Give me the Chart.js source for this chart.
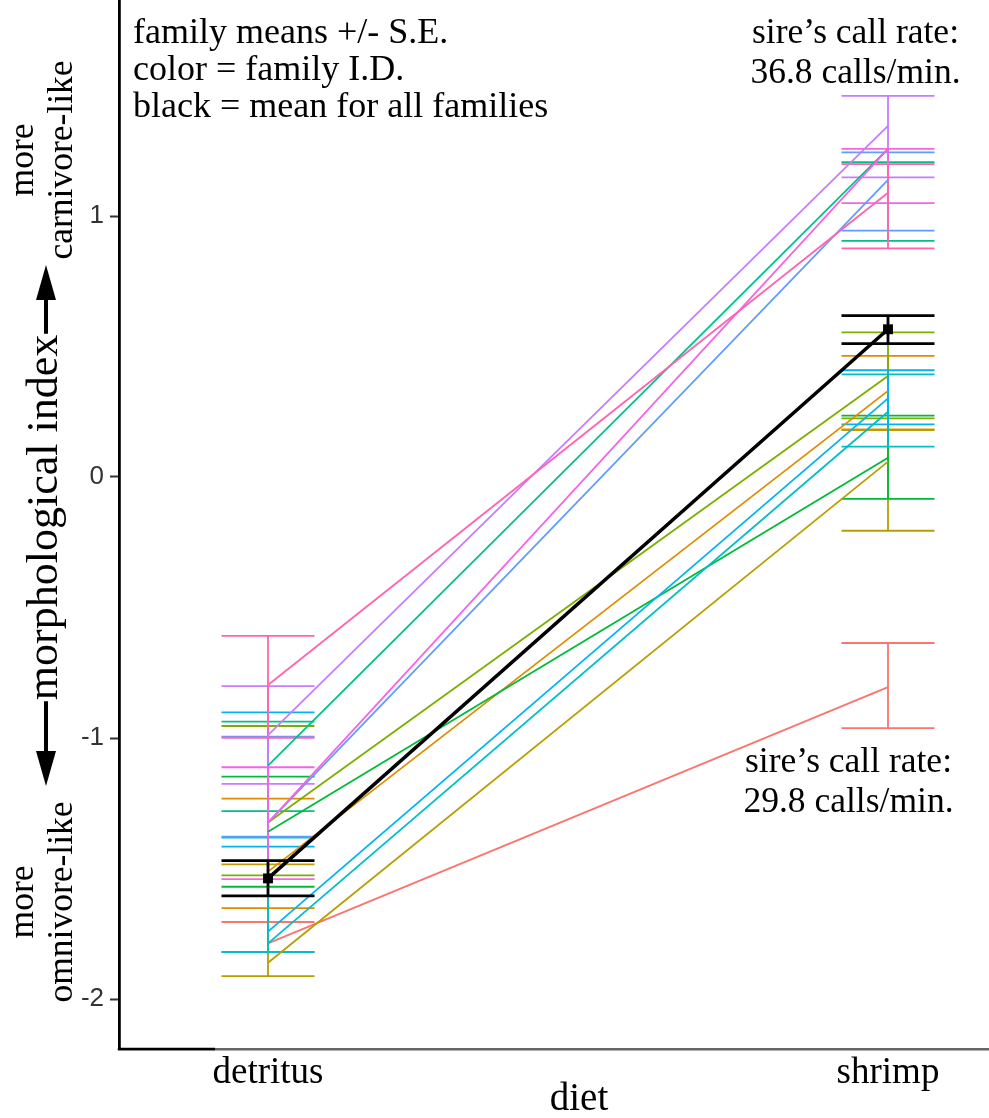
<!DOCTYPE html>
<html>
<head>
<meta charset="utf-8">
<script src="https://cdn.jsdelivr.net/npm/chart.js@4/dist/chart.umd.min.js"></script>
<style>
  html, body { margin: 0; padding: 0; background: #ffffff; }
  #wrap { width: 989px; height: 1118px; position: relative; }
</style>
</head>
<body>
<div id="wrap"><canvas id="c" width="989" height="1118"></canvas></div>
<script>
// ---------------- data ----------------
const diets = ['detritus', 'shrimp'];
const dietPositions = [1, 2];

const familyColors = ['#F8766D', '#DE8C00', '#B79F00', '#7CAE00', '#00BA38', '#00C08B',
                      '#00BFC4', '#00B4F0', '#619CFF', '#C77CFF', '#F564E3', '#FF64B0'];

// family means (line end points)
const detritusMean = [-1.787, -1.512, -1.861, -1.324, -1.359, -1.106, -1.787, -1.742, -1.324, -0.989, -1.324, -0.797];
const shrimpMean   = [-0.805,  0.330,  0.059,  0.387,  0.074,  1.257,  0.250,  0.301,  1.138,  1.345,  1.257,  1.089];

// error bar limits (mean +/- S.E.)
const detritusHigh = [-1.705, -1.232, -1.484, -0.954, -1.148, -0.937, -1.382, -0.902, -0.995, -0.801, -1.112, -0.609];
const detritusLow  = [-1.820, -1.652, -1.912, -1.526, -1.570, -1.280, -1.820, -1.416, -1.378, -1.176, -1.541, -0.999];
const shrimpHigh   = [-0.636,  0.464,  0.180,  0.554,  0.235,  1.206,  0.393,  0.409,  1.244,  1.460,  1.257,  1.199];
const shrimpLow    = [-0.962,  0.182, -0.206,  0.225, -0.084,  0.905,  0.116,  0.202,  0.944,  1.148,  1.049,  0.876];

// mean for all families
const allMean = [-1.538, 0.566];
const allHigh = [-1.470, 0.618];
const allLow  = [-1.605, 0.511];

const yTickValues = [-2, -1, 0, 1];

// ---------------- styles / layout ----------------
const SERIF = '"Liberation Serif", "Times New Roman", serif';
const SANS = '"Liberation Sans", Arial, sans-serif';
const CAP = 0.075;
const X_MIN = 1 - 149 / 620, X_MAX = 2 + 101 / 620;
const Y_MIN = -572 / 261, Y_MAX = 477 / 261;

const meansByDiet = [detritusMean, shrimpMean];
const highByDiet = [detritusHigh, shrimpHigh];
const lowByDiet = [detritusLow, shrimpLow];

function errorbarData(lows, highs) {
  const pts = [];
  dietPositions.forEach((x, k) => {
    const lo = lows[k], hi = highs[k];
    pts.push({x: x, y: lo}, {x: x, y: hi}, {x: x, y: null},
             {x: x - CAP, y: hi}, {x: x + CAP, y: hi}, {x: x, y: null},
             {x: x - CAP, y: lo}, {x: x + CAP, y: lo}, {x: x, y: null});
  });
  return pts;
}

const datasets = [];
familyColors.forEach((col, i) => {
  datasets.push({
    label: 'se' + i,
    data: errorbarData(lowByDiet.map(a => a[i]), highByDiet.map(a => a[i])),
    showLine: true, borderColor: col, borderWidth: 1.8, pointRadius: 0,
    spanGaps: false, order: 300 - i
  });
});
familyColors.forEach((col, i) => {
  datasets.push({
    label: 'fam' + i,
    data: dietPositions.map((x, k) => ({x: x, y: meansByDiet[k][i]})),
    showLine: true, borderColor: col, borderWidth: 1.8, pointRadius: 0,
    order: 200 - i
  });
});
datasets.push({
  label: 'all-se',
  data: errorbarData(allLow, allHigh),
  showLine: true, borderColor: '#000', borderWidth: 2.8, pointRadius: 0,
  spanGaps: false, order: 20
});
datasets.push({
  label: 'all-mean',
  data: dietPositions.map((x, k) => ({x: x, y: allMean[k]})),
  showLine: true, borderColor: '#000', borderWidth: 3.5,
  pointRadius: 7, pointStyle: 'rect', pointBackgroundColor: '#000',
  pointBorderColor: '#000', pointBorderWidth: 0, order: 10
});

// ---------------- annotation plugin ----------------
const annotations = {
  id: 'annotations',
  afterDraw(chart) {
    const ctx = chart.ctx;
    ctx.save();
    ctx.fillStyle = '#000';
    ctx.textBaseline = 'alphabetic';

    // short black piece of the x axis
    ctx.strokeStyle = '#000';
    ctx.lineWidth = 2.5;
    ctx.beginPath();
    ctx.moveTo(chart.chartArea.left - 1.2, chart.chartArea.bottom);
    ctx.lineTo(215, chart.chartArea.bottom);
    ctx.stroke();

    // top-left notes
    ctx.font = '36px ' + SERIF;
    ctx.textAlign = 'left';
    ctx.fillText('family means +/- S.E.', 133, 43);
    ctx.fillText('color = family I.D.', 133, 80);
    ctx.fillText('black = mean for all families', 133, 117);

    // sire call rates
    ctx.font = '35.5px ' + SERIF;
    ctx.textAlign = 'center';
    ctx.fillText('sire\u2019s call rate:', 855.5, 43);
    ctx.fillText('36.8 calls/min.', 855.5, 83);
    ctx.fillText('sire\u2019s call rate:', 848.5, 772);
    ctx.fillText('29.8 calls/min.', 848.5, 812);

    // rotated side labels
    function rotText(str, bx, cy, font) {
      ctx.save();
      ctx.translate(bx, cy);
      ctx.rotate(-Math.PI / 2);
      ctx.font = font;
      ctx.textAlign = 'center';
      ctx.fillText(str, 0, 0);
      ctx.restore();
    }
    const sideFont = '35.5px ' + SERIF;
    rotText('more', 33, 160, sideFont);
    rotText('carnivore-like', 72, 160, sideFont);
    rotText('more', 33, 902, sideFont);
    rotText('omnivore-like', 72, 902, sideFont);

    // y axis title with arrows
    const titleFont = '44px ' + SERIF;
    const tcy = 517.5, tbx = 57;
    rotText('morphological index', tbx, tcy, titleFont);
    ctx.font = titleFont;
    const tw = ctx.measureText('morphological index').width;
    const ax = 46;
    ctx.lineWidth = 4;
    ctx.strokeStyle = '#000';
    ctx.beginPath();
    ctx.moveTo(ax, tcy - tw / 2 - 1);
    ctx.lineTo(ax, 298);
    ctx.moveTo(ax, tcy + tw / 2 + 1);
    ctx.lineTo(ax, 754);
    ctx.stroke();
    ctx.beginPath();
    ctx.moveTo(ax, 265); ctx.lineTo(ax - 10, 300); ctx.lineTo(ax + 10, 300); ctx.closePath();
    ctx.fill();
    ctx.beginPath();
    ctx.moveTo(ax, 786); ctx.lineTo(ax - 10, 751); ctx.lineTo(ax + 10, 751); ctx.closePath();
    ctx.fill();

    // x axis title
    ctx.font = '39px ' + SERIF;
    ctx.textAlign = 'center';
    ctx.fillText('diet', 579, 1110);
    ctx.restore();
  }
};

new Chart(document.getElementById('c'), {
  type: 'scatter',
  data: { datasets: datasets },
  options: {
    responsive: false,
    animation: false,
    devicePixelRatio: 1,
    layout: { padding: 0, autoPadding: false },
    plugins: { legend: { display: false }, tooltip: { enabled: false } },
    scales: {
      x: {
        type: 'linear', position: 'bottom', min: X_MIN, max: X_MAX,
        afterBuildTicks: s => { s.ticks = dietPositions.map(v => ({value: v})); },
        afterFit: s => { s.height = 69; s.paddingLeft = 0; s.paddingRight = 0; },
        ticks: {
          callback: v => diets[dietPositions.indexOf(v)] || '',
          font: { family: SERIF, size: 37, lineHeight: 1 },
          color: '#000', padding: 6, maxRotation: 0, autoSkip: false
        },
        grid: { display: false, drawTicks: false },
        border: { display: true, color: '#666666', width: 2.5 }
      },
      y: {
        type: 'linear', position: 'left', min: Y_MIN, max: Y_MAX,
        afterBuildTicks: s => { s.ticks = yTickValues.map(v => ({value: v})); },
        afterFit: s => { s.width = 119; s.paddingTop = 0; s.paddingBottom = 0; },
        ticks: {
          callback: v => String(v),
          font: { family: SANS, size: 26 },
          color: '#333333', padding: 6
        },
        grid: { display: true, drawOnChartArea: false, drawTicks: true, tickLength: 9,
                tickColor: '#333333', tickWidth: 2, color: '#333333' },
        border: { display: true, color: '#000000', width: 2.8 }
      }
    }
  },
  plugins: [annotations]
});
</script>
</body>
</html>
